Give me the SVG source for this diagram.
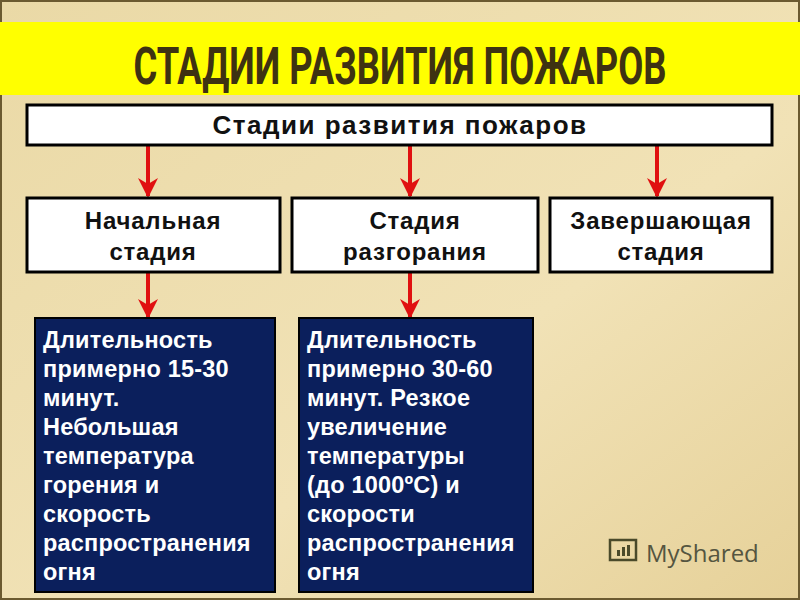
<svg xmlns="http://www.w3.org/2000/svg" width="800" height="600" viewBox="0 0 800 600">
<defs>
<style>
.box{fill:#fff;stroke:#000;stroke-width:3}
.blue{fill:#0b1f5c;stroke:#000;stroke-width:2}
.bt{font-family:"Liberation Sans",Arial,sans-serif;font-weight:bold;font-size:24px;letter-spacing:0.8px;fill:#111;text-anchor:middle}
.wt{font-family:"Liberation Sans",Arial,sans-serif;font-weight:bold;font-size:23.5px;letter-spacing:0.2px;fill:#fff}
.arr{stroke:#e01010;stroke-width:4;fill:none}
</style>
<linearGradient id="bg" x1="0" y1="0" x2="1" y2="1">
<stop offset="0" stop-color="#ead9a6"/><stop offset="0.6" stop-color="#f1e2b6"/><stop offset="1" stop-color="#e6d199"/>
</linearGradient>
<marker id="ah" viewBox="0 0 10 10" refX="9" refY="5" markerWidth="5" markerHeight="5" orient="auto" markerUnits="strokeWidth">
<path d="M0,0 L10,5 L0,10 L3,5 Z" fill="#e01010"/>
</marker>
</defs>
<rect width="800" height="600" fill="url(#bg)"/>
<rect x="1" y="1" width="798" height="598" fill="none" stroke="#6b5a30" stroke-width="2"/>
<rect x="0" y="22" width="800" height="73" fill="#ffff00"/>
<text transform="translate(400,84) scale(0.7,1)" text-anchor="middle" font-family="Roboto,'Liberation Sans',sans-serif" font-weight="bold" font-size="52" fill="#3e3212">СТАДИИ РАЗВИТИЯ ПОЖАРОВ</text>
<g id="connectors">
<line class="arr" x1="148" y1="146" x2="148" y2="196" marker-end="url(#ah)"/>
<line class="arr" x1="410" y1="146" x2="410" y2="196" marker-end="url(#ah)"/>
<line class="arr" x1="657" y1="146" x2="657" y2="196" marker-end="url(#ah)"/>
<line class="arr" x1="148" y1="273" x2="148" y2="317" marker-end="url(#ah)"/>
<line class="arr" x1="410" y1="273" x2="410" y2="317" marker-end="url(#ah)"/>
</g>
<g id="top"><rect class="box" x="27" y="105" width="745" height="40"/><text class="bt" x="400" y="134" style="font-size:26px;letter-spacing:1.5px">Стадии развития пожаров</text></g>
<g id="n1"><rect class="box" x="27" y="198" width="253" height="74"/><text class="bt" x="153" y="229">Начальная</text><text class="bt" x="153" y="260">стадия</text></g>
<g id="n2"><rect class="box" x="292" y="198" width="246" height="74"/><text class="bt" x="415" y="229">Стадия</text><text class="bt" x="415" y="260">разгорания</text></g>
<g id="n3"><rect class="box" x="550" y="198" width="222" height="74"/><text class="bt" x="661" y="229">Завершающая</text><text class="bt" x="661" y="260">стадия</text></g>
<g id="d1"><rect class="blue" x="35" y="318" width="240" height="274"/>
<text class="wt" x="43" y="348">Длительность</text><text class="wt" x="43" y="377">примерно 15-30</text><text class="wt" x="43" y="406">минут.</text><text class="wt" x="43" y="435">Небольшая</text><text class="wt" x="43" y="464">температура</text><text class="wt" x="43" y="493">горения и</text><text class="wt" x="43" y="522">скорость</text><text class="wt" x="43" y="551">распространения</text><text class="wt" x="43" y="580">огня</text></g>
<g id="d2"><rect class="blue" x="299" y="318" width="234" height="274"/>
<text class="wt" x="307" y="348">Длительность</text><text class="wt" x="307" y="377">примерно 30-60</text><text class="wt" x="307" y="406">минут. Резкое</text><text class="wt" x="307" y="435">увеличение</text><text class="wt" x="307" y="464">температуры</text><text class="wt" x="307" y="493">(до 1000ºС) и</text><text class="wt" x="307" y="522">скорости</text><text class="wt" x="307" y="551">распространения</text><text class="wt" x="307" y="580">огня</text></g>
<g id="logo"><rect x="610" y="540" width="26" height="20" fill="none" stroke="#4a4a2a" stroke-width="2.5"/><rect x="617" y="550" width="3" height="6" fill="#4a4a2a"/><rect x="622" y="547" width="3" height="9" fill="#4a4a2a"/><rect x="627" y="545" width="3" height="11" fill="#4a4a2a"/>
<text x="646" y="562" font-family="'Open Sans','Noto Sans',sans-serif" font-size="24" fill="#555540">MyShared</text></g>
</svg>
